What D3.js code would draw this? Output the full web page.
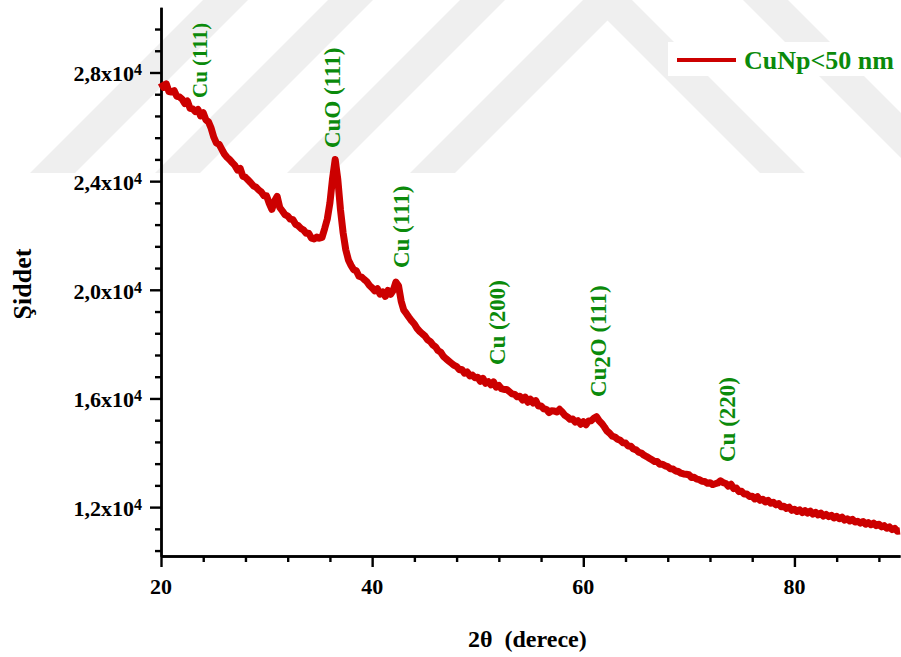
<!DOCTYPE html>
<html>
<head>
<meta charset="utf-8">
<script src="https://cdn.jsdelivr.net/npm/d3@7"></script>
<style>
    body { margin: 0; background: #fff; }
    svg, svg text { font-family: 'Liberation Serif', 'Times New Roman', 'DejaVu Serif', serif; font-weight: bold; }
</style>
</head>
<body>
<div id="chart"></div>
<script>
// XRD scan, 2theta from 20 to 90 in 0.25 degree steps
const scanStart = 20;
const scanStep = 0.25;
const intensity = [
    27620, 27450, 27580, 27300,   // 20
    27280, 27330, 27120, 27100,   // 21
    27020, 26860, 26950, 26680,   // 22
    26660, 26560, 26640, 26400,   // 23
    26520, 26260, 26180, 25950,   // 24
    25620, 25400, 25360, 25180,   // 25
    25000, 24880, 24790, 24680,   // 26
    24580, 24410, 24470, 24180,   // 27
    24140, 24040, 23940, 23830,   // 28
    23780, 23680, 23600, 23460,   // 29
    23460, 23180, 22960, 23260,   // 30
    23440, 23030, 22900, 22760,   // 31
    22720, 22600, 22580, 22410,   // 32
    22360, 22260, 22200, 22080,   // 33
    22080, 21900, 21870, 21940,   // 34
    21900, 21930, 22250, 22600,   // 35
    23200, 24100, 24800, 24050,   // 36
    22950, 22100, 21480, 21100,   // 37
    20900, 20740, 20700, 20500,   // 38
    20470, 20380, 20300, 20160,   // 39
    20070, 19960, 20040, 19840,   // 40
    19920, 19760, 19980, 19830,   // 41
    19980, 20280, 20150, 19580,   // 42
    19250, 19120, 18980, 18850,   // 43
    18740, 18580, 18470, 18380,   // 44
    18300, 18160, 18100, 17970,   // 45
    17900, 17760, 17700, 17550,   // 46
    17460, 17380, 17300, 17220,   // 47
    17180, 17060, 17070, 16930,   // 48
    16980, 16830, 16860, 16760,   // 49
    16780, 16630, 16740, 16560,   // 50
    16620, 16500, 16610, 16420,   // 51
    16480, 16360, 16330, 16330,   // 52
    16250, 16170, 16150, 16060,   // 53
    16080, 15940, 16050, 15860,   // 54
    15970, 15830, 15920, 15720,   // 55
    15720, 15620, 15600, 15480,   // 56
    15550, 15540, 15500, 15600,   // 57
    15500, 15380, 15320, 15230,   // 58
    15240, 15130, 15180, 15050,   // 59
    15140, 15030, 15170, 15180,   // 60
    15270, 15330, 15180, 15080,   // 61
    14950, 14800, 14720, 14610,   // 62
    14580, 14500, 14460, 14370,   // 63
    14360, 14250, 14240, 14140,   // 64
    14110, 14020, 13990, 13910,   // 65
    13860, 13800, 13740, 13680,   // 66
    13680, 13580, 13580, 13520,   // 67
    13490, 13410, 13400, 13330,   // 68
    13310, 13250, 13220, 13210,   // 69
    13190, 13090, 13100, 13030,   // 70
    13010, 12950, 12940, 12880,   // 71
    12900, 12830, 12860, 12890,   // 72
    12970, 12900, 12870, 12770,   // 73
    12840, 12680, 12700, 12570,   // 74
    12580, 12480, 12480, 12390,   // 75
    12400, 12300, 12380, 12250,   // 76
    12290, 12190, 12250, 12140,   // 77
    12180, 12080, 12130, 12010,   // 78
    12030, 11950, 12000, 11880,   // 79
    11920, 11840, 11900, 11800,   // 80
    11870, 11780, 11850, 11740,   // 81
    11810, 11710, 11780, 11670,   // 82
    11730, 11650, 11700, 11600,   // 83
    11660, 11570, 11630, 11520,   // 84
    11570, 11490, 11550, 11450,   // 85
    11480, 11410, 11470, 11370,   // 86
    11430, 11350, 11410, 11320,   // 87
    11370, 11270, 11320, 11220,   // 88
    11270, 11170, 11220, 11110,   // 89
    11120                         // 90
];

const xMajorTicks = [20, 40, 60, 80];
const xMinorTicks = [24, 28, 32, 36, 44, 48, 52, 56, 64, 68, 72, 76, 84, 88];
const yMajorTicks = [12000, 16000, 20000, 24000, 28000];
const yMinorTicks = [10400, 11200, 12800, 13600, 14400, 15200, 16800, 17600, 18400, 19200,
    20800, 21600, 22400, 23200, 24800, 25600, 26400, 27200, 28800, 29600];

// peak labels: angle of the peak, intensity where the label starts
const peakNames = ["Cu (111)", "CuO (111)", "Cu (111)", "Cu (200)", "Cu2O (111)", "Cu (220)"];
const peakAngles = [23.7, 36.2, 42.7, 51.8, 61.35, 73.65];
const peakLabelBase = [27060, 25220, 20800, 17230, 16050, 13660];

const seriesName = "CuNp<50 nm";

const width = 901, height = 657;
const red = "#cc0000", green = "#0b8a0b";
const serif = "'Liberation Serif', 'Times New Roman', 'DejaVu Serif', serif";

const svg = d3.select("#chart").append("svg")
    .attr("width", width)
    .attr("height", height)
    .attr("font-family", serif)
    .attr("font-weight", "bold");

// faint watermark bands in the background
const wm = svg.append("g").attr("fill", "#efefef");
const bandTop = 0, bandBottom = 173, bandW = 45, bandH = bandBottom - bandTop;
[30, 155, 287, 410].forEach(b => {
    wm.append("polygon").attr("points",
        `${b},${bandBottom} ${b + bandW},${bandBottom} ${b + bandW + bandH},${bandTop} ${b + bandH},${bandTop}`);
});
[587, 743].forEach(t => {
    wm.append("polygon").attr("points",
        `${t},${bandTop} ${t + bandW},${bandTop} ${t + bandW + bandH},${bandBottom} ${t + bandH},${bandBottom}`);
});

const x = d3.scaleLinear().domain([20, 90]).range([161, 900]);
const y = d3.scaleLinear().domain([10200, 30400]).range([556, 7.3]);

const data = intensity.map((v, i) => ({ t: scanStart + i * scanStep, v }));

// axes
const styleAxis = g => {
    g.selectAll("path, line").attr("stroke", "#000").attr("stroke-width", 2.4);
    g.selectAll("text").remove();
};

svg.append("g")
    .attr("transform", "translate(0,556)")
    .call(d3.axisBottom(x).tickValues(xMinorTicks).tickSize(6).tickSizeOuter(0))
    .call(styleAxis);
svg.append("g")
    .attr("transform", "translate(0,556)")
    .call(d3.axisBottom(x).tickValues(xMajorTicks).tickSize(11).tickSizeOuter(0))
    .call(styleAxis);

svg.append("g")
    .attr("transform", "translate(161,0)")
    .call(d3.axisLeft(y).tickValues(yMinorTicks).tickSize(6).tickSizeOuter(0))
    .call(styleAxis);
svg.append("g")
    .attr("transform", "translate(161,0)")
    .call(d3.axisLeft(y).tickValues(yMajorTicks).tickSize(11).tickSizeOuter(0))
    .call(styleAxis);

// tick labels
svg.append("g").selectAll("text")
    .data(xMajorTicks)
    .join("text")
    .attr("x", d => x(d))
    .attr("y", 594)
    .attr("text-anchor", "middle")
    .attr("font-family", serif)
    .attr("font-size", 22)
    .text(d => d);

const yLab = svg.append("g").selectAll("text")
    .data(yMajorTicks)
    .join("text")
    .attr("x", 142)
    .attr("y", d => y(d) + 9)
    .attr("text-anchor", "end")
    .attr("font-family", serif)
    .attr("font-size", 22);
yLab.append("tspan").text(d => d3.format(".1f")(d / 1e4).replace(".", ",") + "x10");
yLab.append("tspan").attr("font-size", 16).attr("dy", -6).text("4");

// axis titles
svg.append("text")
    .attr("x", 468)
    .attr("y", 647)
    .attr("font-family", serif)
    .attr("font-size", 24)
    .style("white-space", "pre")
    .text("2θ  (derece)");

svg.append("text")
    .attr("transform", "translate(31,284) rotate(-90)")
    .attr("text-anchor", "middle")
    .attr("font-family", serif)
    .attr("font-size", 26)
    .text("Şiddet");

// data line
const line = d3.line().x(d => x(d.t)).y(d => y(d.v));
svg.append("path")
    .datum(data)
    .attr("fill", "none")
    .attr("stroke", red)
    .attr("stroke-width", 7)
    .attr("stroke-linejoin", "round")
    .attr("d", line);

// peak labels
peakNames.forEach((name, i) => {
    const txt = svg.append("text")
        .attr("transform", `translate(${x(peakAngles[i])},${y(peakLabelBase[i])}) rotate(-90)`)
        .attr("dy", "0.35em")
        .attr("fill", green)
        .attr("font-family", serif)
        .attr("font-size", i === 0 ? 21 : 23);
    const m = name.match(/^(Cu)(\d)(.*)$/);
    if (m) {
        txt.append("tspan").text(m[1]);
        txt.append("tspan").attr("dy", 4).text(m[2]);
        txt.append("tspan").attr("dy", -4).text(m[3]);
    } else {
        txt.text(name);
    }
});

// legend
const legend = svg.append("g");
legend.append("rect")
    .attr("x", 668).attr("y", 42)
    .attr("width", 233).attr("height", 34)
    .attr("fill", "#fff");
legend.append("line")
    .attr("x1", 677).attr("x2", 736)
    .attr("y1", 60).attr("y2", 60)
    .attr("stroke", red)
    .attr("stroke-width", 4);
legend.append("text")
    .attr("x", 744).attr("y", 69)
    .attr("fill", green)
    .attr("font-family", serif)
    .attr("font-size", 26)
    .text(seriesName);
</script>
</body>
</html>
